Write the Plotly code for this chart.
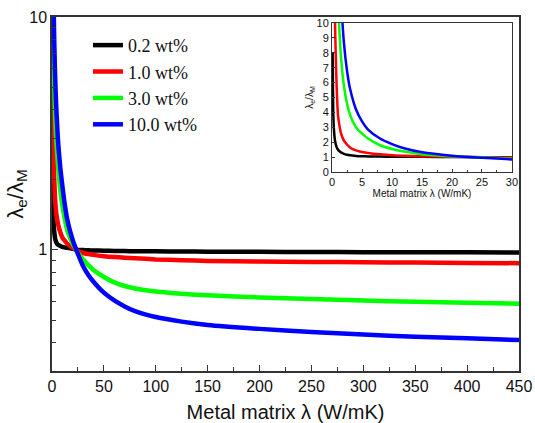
import plotly.graph_objects as go

# Metal matrix thermal conductivity (W/mK)
lam_m = [0.1, 0.2, 0.3, 0.5, 0.75, 1, 1.25, 1.5, 2, 2.5, 3, 4, 5, 6, 8, 10, 12, 15,
         20, 25, 30, 35, 40, 50, 60, 70, 80, 100, 125, 150, 200, 250, 300, 350, 400, 450]

series_names = ["0.2 wt%", "1.0 wt%", "3.0 wt%", "10.0 wt%"]
series_colors = ["#000000", "#ff0000", "#00ff00", "#0000ff"]

ratio_02 = [8.0, 4.2, 3.0, 2.1, 1.7, 1.5, 1.4, 1.32, 1.22, 1.16, 1.12, 1.08, 1.06, 1.05,
            1.04, 1.03, 1.025, 1.02, 1.01, 1.0, 0.998, 0.996, 0.994, 0.992, 0.99, 0.988,
            0.987, 0.986, 0.984, 0.983, 0.981, 0.979, 0.978, 0.977, 0.976, 0.975]
ratio_10 = [45, 23, 16, 10, 6.0, 3.8, 3.1, 2.6, 2.1, 1.85, 1.65, 1.45, 1.35, 1.28, 1.19,
            1.13, 1.1, 1.06, 1.02, 0.99, 0.97, 0.96, 0.952, 0.94, 0.932, 0.926, 0.921,
            0.91, 0.903, 0.897, 0.892, 0.888, 0.885, 0.882, 0.879, 0.877]
ratio_30 = [110, 55, 37, 23, 15, 11.5, 9.3, 7.7, 5.75, 4.6, 3.85, 3.0, 2.58, 2.25, 1.8,
            1.55, 1.38, 1.2, 1.06, 0.97, 0.91, 0.86, 0.82, 0.765, 0.725, 0.70, 0.683,
            0.663, 0.648, 0.638, 0.625, 0.615, 0.606, 0.599, 0.593, 0.587]
ratio_100 = [170, 85, 57, 35, 23, 17.5, 14, 11.7, 8.6, 6.8, 5.6, 4.2, 3.4, 2.85, 2.25,
             1.88, 1.6, 1.33, 1.1, 0.96, 0.85, 0.78, 0.73, 0.655, 0.607, 0.572, 0.546,
             0.515, 0.492, 0.476, 0.458, 0.444, 0.433, 0.424, 0.417, 0.41]
series_values = [ratio_02, ratio_10, ratio_30, ratio_100]

main_y_ticks = [1, 10]
main_y_minor = [0.4, 0.5, 0.6, 0.7, 0.8, 0.9, 2, 3, 4, 5, 6, 7, 8, 9]

fig = go.Figure()

for name, col, vals in zip(series_names, series_colors, series_values):
    fig.add_trace(go.Scatter(x=lam_m, y=vals, mode="lines", name=name,
                             line=dict(color=col, width=4.5, shape="spline", smoothing=0.6),
                             xaxis="x", yaxis="y"))

for name, col, vals in zip(series_names, series_colors, series_values):
    fig.add_trace(go.Scatter(x=lam_m, y=vals, mode="lines", name=name, showlegend=False,
                             line=dict(color=col, width=2.5, shape="spline", smoothing=0.6),
                             xaxis="x2", yaxis="y2"))

axcol = "#333333"
fig.update_layout(
    width=535, height=423,
    margin=dict(l=52, r=16, t=17, b=52),
    paper_bgcolor="white", plot_bgcolor="white",
    font=dict(family="Liberation Sans, Arial, sans-serif", color="#111"),
    xaxis=dict(domain=[0, 1], range=[0, 450], dtick=50, tick0=0, automargin=False,
               showline=True, linecolor=axcol, linewidth=1.5, mirror=True,
               ticks="inside", ticklen=6, tickcolor=axcol, tickwidth=1.2,
               minor=dict(dtick=25, tick0=0, ticks="inside", ticklen=4, tickcolor=axcol),
               showgrid=False, zeroline=False,
               tickfont=dict(size=16),
               title=dict(text="Metal matrix λ (W/mK)", font=dict(size=20))),
    yaxis=dict(domain=[0, 1], type="log", range=[-0.52, 1.0], automargin=False,
               tickvals=main_y_ticks, ticktext=["1", "10"],
               showline=True, linecolor=axcol, linewidth=1.5, mirror=True,
               ticks="inside", ticklen=6, tickcolor=axcol, tickwidth=1.2,
               minor=dict(tickvals=main_y_minor, ticks="inside", ticklen=4, tickcolor=axcol),
               showgrid=False, zeroline=False,
               tickfont=dict(size=16),
               title=dict(text="λ<sub>e</sub>/λ<sub>M</sub>", font=dict(size=22), standoff=0)),
    xaxis2=dict(domain=[0.5996, 0.985], anchor="y2", range=[0, 30], dtick=5, tick0=0,
                automargin=False,
                showline=True, linecolor=axcol, linewidth=1, mirror=True,
                ticks="inside", ticklen=3, tickcolor=axcol,
                minor=dict(dtick=2.5, tick0=0, ticks="inside", ticklen=2, tickcolor=axcol),
                showgrid=False, zeroline=False, tickfont=dict(size=11),
                title=dict(text="Metal matrix λ (W/mK)", font=dict(size=10), standoff=1)),
    yaxis2=dict(domain=[0.562, 0.983], anchor="x2", range=[0, 10], dtick=1, tick0=0,
                automargin=False,
                showline=True, linecolor=axcol, linewidth=1, mirror=True,
                ticks="inside", ticklen=3, tickcolor=axcol,
                showgrid=False, zeroline=False, tickfont=dict(size=11),
                title=dict(text="λ<sub>e</sub>/λ<sub>M</sub>", font=dict(size=10), standoff=1)),
    legend=dict(x=0.077, y=0.972, xanchor="left", yanchor="top",
                bgcolor="rgba(255,255,255,0)",
                font=dict(family="Liberation Serif, Times New Roman, serif", size=18, color="#111"),
                tracegroupgap=0),
    showlegend=True,
)

fig.write_html("out.html", config={"displayModeBar": False},
               post_script="document.body.style.margin='0';")
